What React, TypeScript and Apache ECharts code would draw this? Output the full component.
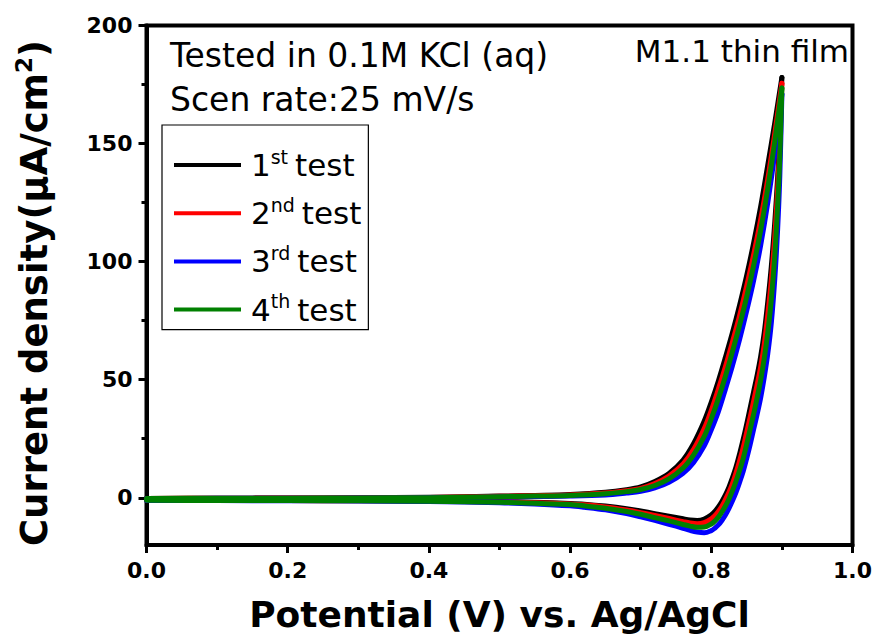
import React, { useEffect, useRef } from 'react';
import * as echarts from 'echarts';

// Potential grids (V vs. Ag/AgCl)
const potentialForward = [0, 0.1, 0.2, 0.3, 0.4, 0.5, 0.55, 0.6, 0.65, 0.68, 0.7, 0.72, 0.74, 0.76, 0.775, 0.79, 0.8, 0.81, 0.82, 0.83, 0.84, 0.85, 0.86, 0.87, 0.88, 0.89, 0.9];
const potentialReverse = [0.9, 0.897, 0.894, 0.89, 0.885, 0.88, 0.875, 0.87, 0.865, 0.86, 0.855, 0.85, 0.845, 0.84, 0.835, 0.83, 0.825, 0.82, 0.815, 0.81, 0.805, 0.8, 0.79, 0.78, 0.77, 0.76, 0.74, 0.72, 0.7, 0.68, 0.65, 0.62, 0.6, 0.55, 0.5, 0.4, 0.3, 0.2, 0.1, 0];

// Current density (uA/cm2), forward scan
const test1Forward = [-0.3, -0.2, -0.1, 0.0, 0.2, 0.7, 1.0, 1.4, 2.3, 3.4, 4.6, 6.9, 10.3, 16, 23, 32.5, 40.5, 49.5, 59.5, 70, 81.5, 94, 108, 123.5, 141, 159, 178];
const test2Forward = [-0.3, -0.2, -0.1, 0.0, 0.1, 0.6, 0.85, 1.2, 2.0, 3.0, 4.0, 6.0, 9.2, 14.3, 20.5, 29.3, 37, 46, 55.5, 66, 77, 89.5, 103, 118, 135, 154.5, 175.5];
const test3Forward = [-0.35, -0.25, -0.2, -0.1, 0.0, 0.3, 0.5, 0.7, 1.2, 2.0, 2.7, 4.2, 6.6, 10.4, 15, 22, 28.8, 36.5, 46, 56, 67, 79, 92, 107, 125, 146, 171];
const test4Forward = [-0.3, -0.2, -0.15, -0.05, 0.05, 0.45, 0.7, 1.0, 1.7, 2.6, 3.5, 5.2, 8.0, 12.6, 18.2, 26, 33.5, 42, 51.5, 62, 73, 85, 98.5, 113.5, 131, 151, 173.5];

// Current density (uA/cm2), reverse scan
const test1Reverse = [178, 154, 136, 117, 98, 83, 70, 60, 52, 45, 38, 31, 24.5, 18.5, 13, 8.5, 4.5, 1.2, -1.6, -3.9, -5.8, -7.2, -9.0, -9.6, -9.4, -8.9, -7.8, -6.7, -5.6, -4.6, -3.5, -2.7, -2.4, -1.9, -1.6, -1.35, -1.2, -1.15, -1.1, -1.1];
const test2Reverse = [175.5, 150, 131, 111, 92, 77.5, 65, 55.5, 48, 41, 34, 27.5, 21, 15.5, 10.5, 6, 2.3, -0.8, -3.6, -5.8, -7.6, -8.9, -10.5, -11.0, -10.7, -10.1, -8.8, -7.5, -6.3, -5.2, -3.9, -3.0, -2.6, -2.1, -1.75, -1.4, -1.25, -1.2, -1.15, -1.1];
const test3Reverse = [171, 136, 114, 93, 74, 61, 51, 42.5, 35.5, 29, 22.5, 16.5, 11, 6.5, 2.3, -1.3, -4.5, -7.3, -9.6, -11.5, -12.9, -13.9, -14.8, -14.5, -13.8, -12.9, -11.2, -9.6, -8.1, -6.7, -5.1, -4.0, -3.4, -2.6, -2.1, -1.6, -1.35, -1.25, -1.2, -1.15];
const test4Reverse = [173.5, 144, 124, 103, 84, 70, 59, 50, 42.5, 35.5, 29, 22.5, 16.5, 11.5, 7, 3, -0.5, -3.5, -6, -8.2, -9.9, -11.1, -12.4, -12.5, -12.0, -11.3, -9.8, -8.4, -7.0, -5.8, -4.4, -3.4, -2.9, -2.3, -1.9, -1.5, -1.3, -1.2, -1.15, -1.1];

const testNames = ['1st test', '2nd test', '3rd test', '4th test'];
const testOrdinals = ['1', '2', '3', '4'];
const testSuffixes = ['st', 'nd', 'rd', 'th'];
const testColors = ['#000000', '#ff0000', '#0000ff', '#008000'];
const forwardData = [test1Forward, test2Forward, test3Forward, test4Forward];
const reverseData = [test1Reverse, test2Reverse, test3Reverse, test4Reverse];

const yMajorTicks = [0, 50, 100, 150, 200];
const yMinorTicks = [25, 75, 125, 175];

const FONT = '"DejaVu Sans", "Liberation Sans", Arial, sans-serif';

function pairs(xs: number[], ys: number[]) {
  return xs.map((x, i) => [x, ys[i]]);
}

export default function App() {
  const ref = useRef<HTMLDivElement>(null);

  useEffect(() => {
    document.body.style.margin = '0';
    if (!ref.current) return;
    const chart = echarts.init(ref.current, undefined, { renderer: 'svg' });

    const series: any[] = [];
    testNames.forEach((name, i) => {
      [pairs(potentialForward, forwardData[i]), pairs(potentialReverse, reverseData[i])].forEach((d) => {
        series.push({
          name,
          type: 'line',
          data: d,
          showSymbol: false,
          symbol: 'none',
          smooth: 0.35,
          itemStyle: { color: testColors[i] },
          lineStyle: { color: testColors[i], width: 5, cap: 'round', join: 'round' },
          emphasis: { disabled: true },
        });
      });
    });

    const option: any = {
      animation: false,
      backgroundColor: '#ffffff',
      grid: {
        left: 146.5,
        right: 25.5,
        top: 25.5,
        bottom: 96,
        show: true,
        borderColor: '#000',
        borderWidth: 4,
        backgroundColor: 'transparent',
      },
      xAxis: {
        type: 'value',
        min: 0,
        max: 1,
        interval: 0.2,
        axisLine: { show: true, onZero: false, lineStyle: { color: '#000', width: 4 } },
        axisTick: { show: true, length: 8, lineStyle: { color: '#000', width: 3 } },
        minorTick: { show: true, splitNumber: 2, length: 5, lineStyle: { color: '#000', width: 3 } },
        splitLine: { show: false },
        axisLabel: {
          margin: 14,
          color: '#000',
          fontFamily: FONT,
          fontWeight: 'bold',
          fontSize: 22,
          formatter: (v: number) => v.toFixed(1),
        },
      },
      yAxis: [
        {
          type: 'value',
          min: -20,
          max: 200,
          position: 'left',
          axisLine: { show: true, onZero: false, lineStyle: { color: '#000', width: 4 } },
          axisTick: { show: true, length: 8, lineStyle: { color: '#000', width: 3 }, customValues: yMajorTicks },
          splitLine: { show: false },
          axisLabel: {
            customValues: yMajorTicks,
            margin: 14,
            color: '#000',
            fontFamily: FONT,
            fontWeight: 'bold',
            fontSize: 22,
          },
        },
        {
          type: 'value',
          min: -20,
          max: 200,
          position: 'left',
          axisLine: { show: false },
          axisTick: { show: true, length: 5, lineStyle: { color: '#000', width: 3 }, customValues: yMinorTicks },
          splitLine: { show: false },
          axisLabel: { show: false },
        },
      ],
      legend: {
        data: testNames,
        orient: 'vertical',
        left: 162,
        top: 125,
        icon: 'rect',
        itemWidth: 67,
        itemHeight: 4,
        itemGap: 14.7,
        padding: [22, 7, 4.5, 12],
        borderColor: '#000',
        borderWidth: 1.2,
        selectedMode: false,
        formatter: (name: string) => {
          const i = testNames.indexOf(name);
          return `{n|${testOrdinals[i]}}{s|${testSuffixes[i]}}{t|test}`;
        },
        textStyle: {
          color: '#000',
          fontFamily: FONT,
          rich: {
            n: { fontSize: 31, lineHeight: 36, fontFamily: FONT, color: '#000', padding: [0, 0, 0, 5] },
            s: { fontSize: 19, lineHeight: 16, verticalAlign: 'top', fontFamily: FONT, color: '#000' },
            t: { fontSize: 31, lineHeight: 36, fontFamily: FONT, color: '#000', padding: [0, 0, 0, 7] },
          },
        },
      },
      graphic: [
        {
          type: 'text',
          x: 170,
          y: 55,
          style: { text: 'Tested in 0.1M KCl (aq)', fill: '#000', font: `33px ${FONT}`, align: 'left', verticalAlign: 'middle' },
        },
        {
          type: 'text',
          x: 170,
          y: 99,
          style: { text: 'Scen rate:25 mV/s', fill: '#000', font: `33px ${FONT}`, align: 'left', verticalAlign: 'middle' },
        },
        {
          type: 'text',
          x: 849,
          y: 51,
          style: { text: 'M1.1 thin film', fill: '#000', font: `31px ${FONT}`, align: 'right', verticalAlign: 'middle' },
        },
        {
          type: 'text',
          x: 499.5,
          y: 614,
          style: { text: 'Potential (V) vs. Ag/AgCl', fill: '#000', font: `bold 36px ${FONT}`, align: 'center', verticalAlign: 'middle' },
        },
        {
          type: 'text',
          x: 34,
          y: 293,
          rotation: Math.PI / 2,
          style: {
            text: '{a|Current density(μA/cm}{s|2}{a|)}',
            align: 'center',
            verticalAlign: 'middle',
            rich: {
              a: { fontSize: 37, fontWeight: 'bold', fontFamily: FONT, lineHeight: 43, fill: '#000' },
              s: { fontSize: 23, fontWeight: 'bold', fontFamily: FONT, lineHeight: 22, verticalAlign: 'top', fill: '#000' },
            },
          },
        },
      ],
      series,
    };

    chart.setOption(option);
    return () => chart.dispose();
  }, []);

  return <div ref={ref} style={{ width: 878, height: 641 }} />;
}
